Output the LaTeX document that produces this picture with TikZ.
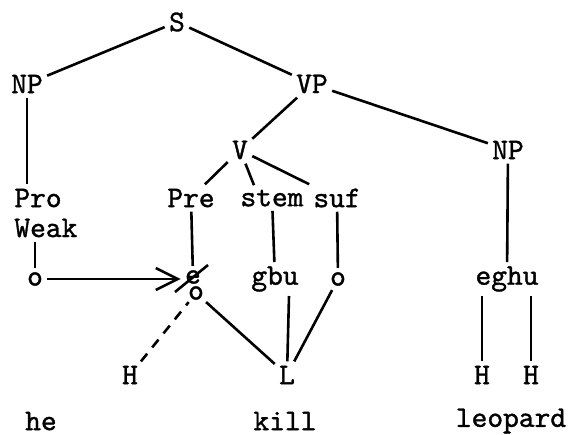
\documentclass[tikz,border=0pt]{standalone}
\usepackage{fontspec}
\setmonofont{lmmono10-regular.otf}[FakeBold=1.2]
\usetikzlibrary{positioning}
\usetikzlibrary{calc}
\usetikzlibrary{arrows.meta}

\begin{document}
\begin{tikzpicture}[x=0.5pt, y=-0.5pt,
    every node/.style={font=\ttfamily\fontsize{15}{17}\selectfont, inner sep=2pt},
    branch/.style={line width=1.3pt},
    link/.style={branch, dash pattern=on 5pt off 4pt}]
    \useasboundingbox (0,0) rectangle (572,434);
    % tree
    \node (s) at (177,22) {S};
    \node (np) at (27,84) {NP};
    \node (vp) at (312,84) {VP};
    \node (v) at (240,150) {V};
    \node (npr) at (508,150) {NP};
    \node[anchor=west] (pro) at (10,198) {Pro};
    \node[anchor=west] (weak) at (10,228) {Weak};
    \node (pre) at (191,198) {Pre};
    \node (stem) at (272,198) {stem};
    \node (suf) at (337,198) {suf};
    % segments
    \node (ow) at (35,279) {o};
    \node (e) at (193,277) {e};
    \node[inner sep=1pt] (eo) at (196,293) {o};
    \node (gbu) at (275,279) {gbu};
    \node (osuf) at (338,279) {o};
    \node (eghu) at (507,279) {eghu};
    % tones
    \node (h1) at (130,375) {H};
    \node (l) at (287,375) {L};
    \node (h2) at (482,375) {H};
    \node (h3) at (531,375) {H};
    % glosses
    \node (he) at (41,421) {he};
    \node (kill) at (285,421) {kill};
    \node (leopard) at (511,421) {leopard};

    \draw[branch] (s) -- (np);
    \draw[branch] (s) -- (vp);
    \draw[branch] (np) -- (np |- pro.north);
    \draw[branch] (vp) -- (v);
    \draw[branch] (vp) -- (npr);
    \draw[branch] (v) -- (pre);
    \draw[branch] (v) -- ([xshift=-9pt]stem.north);
    \draw[branch] (v) -- (suf);
    \draw[branch] (weak.south -| ow) -- (ow);
    \draw[branch] (pre) -- (e);
    \draw[branch] (stem) -- (gbu);
    \draw[branch] (suf) -- (osuf);
    \draw[branch] (npr) -- (eghu);
    \draw[branch, -{Straight Barb[length=11pt, width=11pt]}] (ow) -- (ow -| e.west);
    \draw[branch] ($(e)+(-18,15)$) -- ($(e)+(15,-12)$);
    \draw[link] (h1) -- (eo);
    \draw[branch] (eo) -- (l);
    \draw[branch] ([xshift=7pt]gbu.south) -- (l);
    \draw[branch] (osuf) -- (l);
    \draw[branch] (eghu.south -| h2) -- (h2);
    \draw[branch] (eghu.south -| h3) -- (h3);
\end{tikzpicture}
\end{document}
